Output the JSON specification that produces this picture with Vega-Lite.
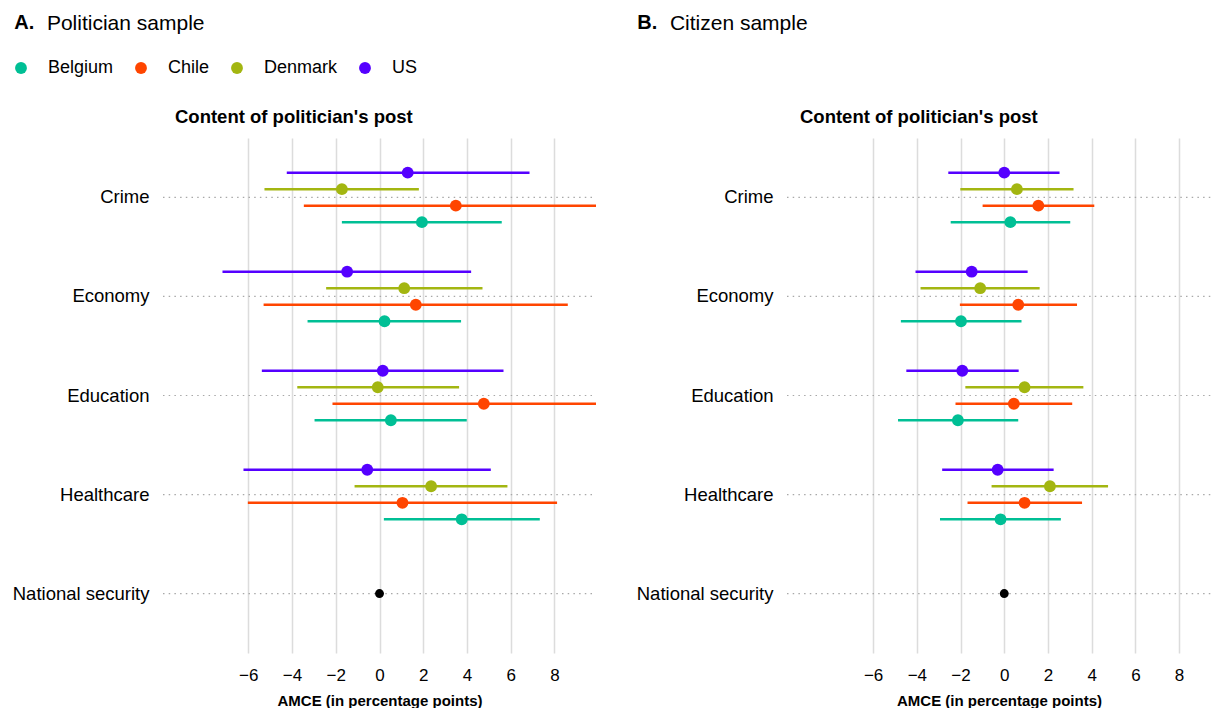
{
  "$schema": "https://vega.github.io/schema/vega-lite/v6.json",
  "autosize": {"type": "pad"},
  "padding": {"left": 12, "top": 12, "right": 0, "bottom": 0},
  "background": "white",
  "datasets": {
    "pol": [
      {"topic": "Crime", "country": "US", "est": 1.29, "lo": -4.24, "hi": 6.86},
      {"topic": "Crime", "country": "Denmark", "est": -1.72, "lo": -5.26, "hi": 1.80},
      {"topic": "Crime", "country": "Chile", "est": 3.49, "lo": -3.46, "hi": 10.4},
      {"topic": "Crime", "country": "Belgium", "est": 1.94, "lo": -1.72, "hi": 5.59},
      {"topic": "Economy", "country": "US", "est": -1.48, "lo": -7.18, "hi": 4.19},
      {"topic": "Economy", "country": "Denmark", "est": 1.13, "lo": -2.44, "hi": 4.71},
      {"topic": "Economy", "country": "Chile", "est": 1.66, "lo": -5.30, "hi": 8.61},
      {"topic": "Economy", "country": "Belgium", "est": 0.23, "lo": -3.29, "hi": 3.73},
      {"topic": "Education", "country": "US", "est": 0.15, "lo": -5.38, "hi": 5.67},
      {"topic": "Education", "country": "Denmark", "est": -0.08, "lo": -3.76, "hi": 3.64},
      {"topic": "Education", "country": "Chile", "est": 4.77, "lo": -2.15, "hi": 11.7},
      {"topic": "Education", "country": "Belgium", "est": 0.52, "lo": -2.97, "hi": 3.99},
      {"topic": "Healthcare", "country": "US", "est": -0.56, "lo": -6.22, "hi": 5.09},
      {"topic": "Healthcare", "country": "Denmark", "est": 2.36, "lo": -1.14, "hi": 5.85},
      {"topic": "Healthcare", "country": "Chile", "est": 1.05, "lo": -6.02, "hi": 8.12},
      {"topic": "Healthcare", "country": "Belgium", "est": 3.76, "lo": 0.20, "hi": 7.33}
    ],
    "cit": [
      {"topic": "Crime", "country": "US", "est": 0.0, "lo": -2.56, "hi": 2.53},
      {"topic": "Crime", "country": "Denmark", "est": 0.58, "lo": -2.01, "hi": 3.17},
      {"topic": "Crime", "country": "Chile", "est": 1.56, "lo": -0.99, "hi": 4.12},
      {"topic": "Crime", "country": "Belgium", "est": 0.28, "lo": -2.45, "hi": 3.02},
      {"topic": "Economy", "country": "US", "est": -1.49, "lo": -4.06, "hi": 1.07},
      {"topic": "Economy", "country": "Denmark", "est": -1.10, "lo": -3.83, "hi": 1.62},
      {"topic": "Economy", "country": "Chile", "est": 0.64, "lo": -2.03, "hi": 3.33},
      {"topic": "Economy", "country": "Belgium", "est": -1.98, "lo": -4.73, "hi": 0.79},
      {"topic": "Education", "country": "US", "est": -1.92, "lo": -4.48, "hi": 0.66},
      {"topic": "Education", "country": "Denmark", "est": 0.93, "lo": -1.78, "hi": 3.62},
      {"topic": "Education", "country": "Chile", "est": 0.44, "lo": -2.23, "hi": 3.11},
      {"topic": "Education", "country": "Belgium", "est": -2.12, "lo": -4.86, "hi": 0.64},
      {"topic": "Healthcare", "country": "US", "est": -0.30, "lo": -2.84, "hi": 2.26},
      {"topic": "Healthcare", "country": "Denmark", "est": 2.09, "lo": -0.58, "hi": 4.75},
      {"topic": "Healthcare", "country": "Chile", "est": 0.93, "lo": -1.68, "hi": 3.56},
      {"topic": "Healthcare", "country": "Belgium", "est": -0.17, "lo": -2.94, "hi": 2.59}
    ],
    "topics": [
      {"topic": "Crime"}, {"topic": "Economy"}, {"topic": "Education"}, {"topic": "Healthcare"}, {"topic": "National security"}
    ],
    "ref": [
      {"topic": "National security", "est": 0}
    ]
  },
  "spacing": 39,
  "hconcat": [
    {
      "title": {"text": "A.", "subtitle": "\u200b\u2002\u2002\u00a0\u00a0Politician sample", "anchor": "start", "frame": "bounds", "dx": 2, "offset": 74, "fontSize": 20, "fontWeight": "bold", "subtitleFontSize": 21, "subtitleFontWeight": "normal", "subtitleColor": "black", "subtitlePadding": -20},
      "vconcat": [
        {
          "title": {"text": "Content of politician's post", "anchor": "start", "frame": "group", "dx": 12, "offset": 12, "fontSize": 18.5, "fontWeight": "bold"},
          "width": 433,
          "height": 515,
          "layer": [
            {
              "data": {"name": "topics"},
              "mark": {"type": "rule", "color": "#a8a8a8", "strokeWidth": 1.2, "strokeDash": [1.5, 4.2]},
              "encoding": {
                "y": {"field": "topic", "type": "nominal", "scale": {"domain": ["Crime", "Economy", "Education", "Healthcare", "National security"], "paddingInner": 0, "paddingOuter": 0.1}, "axis": {"title": null}},
                "x": {"datum": -9.9, "type": "quantitative", "scale": {"domain": [-9.9, 9.9], "nice": false, "zero": false}, "axis": {"title": "AMCE (in percentage points)", "values": [-6, -4, -2, 0, 2, 4, 6, 8]}},
                "x2": {"datum": 9.9}
              }
            },
            {
              "mark": {"type": "rule", "color": "#808080", "strokeWidth": 2},
              "encoding": {"x": {"datum": 0}}
            },
            {
              "data": {"name": "pol"},
              "mark": {"type": "rule", "strokeWidth": 2.5, "clip": true},
              "encoding": {
                "y": {"field": "topic", "type": "nominal"},
                "yOffset": {"field": "country", "type": "nominal", "scale": {"domain": ["US", "Denmark", "Chile", "Belgium"], "paddingInner": 0, "paddingOuter": 1.96}},
                "x": {"field": "lo", "type": "quantitative", "title": "AMCE (in percentage points)"},
                "x2": {"field": "hi"},
                "color": {"field": "country", "type": "nominal", "scale": {"domain": ["Belgium", "Chile", "Denmark", "US"], "range": ["#00BF95", "#FF4500", "#A3B611", "#5500FF"]},
                  "legend": {"orient": "none", "legendX": -151, "legendY": -79, "direction": "horizontal", "columns": 4, "title": null, "symbolType": "circle", "symbolSize": 140, "symbolStrokeWidth": 0, "symbolOpacity": 1, "labelFontSize": 18, "labelColor": "black", "labelOffset": 18, "columnPadding": 18}}
              }
            },
            {
              "data": {"name": "pol"},
              "mark": {"type": "point", "filled": true, "opacity": 1, "size": 140},
              "encoding": {
                "y": {"field": "topic", "type": "nominal"},
                "yOffset": {"field": "country", "type": "nominal"},
                "x": {"field": "est", "type": "quantitative", "title": "AMCE (in percentage points)"},
                "color": {"field": "country", "type": "nominal"}
              }
            },
            {
              "data": {"name": "ref"},
              "mark": {"type": "point", "filled": true, "opacity": 1, "size": 80, "color": "black"},
              "encoding": {
                "y": {"field": "topic", "type": "nominal"},
                "x": {"field": "est", "type": "quantitative", "title": "AMCE (in percentage points)"}
              }
            }
          ]
        }
      ]
    },
    {
      "title": {"text": "B.", "subtitle": "\u200b\u2002\u2002\u00a0\u00a0Citizen sample", "anchor": "start", "frame": "bounds", "dx": 1, "offset": 74, "fontSize": 20, "fontWeight": "bold", "subtitleFontSize": 21, "subtitleFontWeight": "normal", "subtitleColor": "black", "subtitlePadding": -20},
      "vconcat": [
        {
          "title": {"text": "Content of politician's post", "anchor": "start", "frame": "group", "dx": 13, "offset": 12, "fontSize": 18.5, "fontWeight": "bold"},
          "width": 424,
          "height": 515,
          "layer": [
            {
              "data": {"name": "topics"},
              "mark": {"type": "rule", "color": "#a8a8a8", "strokeWidth": 1.2, "strokeDash": [1.5, 4.2]},
              "encoding": {
                "y": {"field": "topic", "type": "nominal", "scale": {"domain": ["Crime", "Economy", "Education", "Healthcare", "National security"], "paddingInner": 0, "paddingOuter": 0.1}, "axis": {"title": null}},
                "x": {"datum": -9.94, "type": "quantitative", "scale": {"domain": [-9.94, 9.46], "nice": false, "zero": false}, "axis": {"title": "AMCE (in percentage points)", "values": [-6, -4, -2, 0, 2, 4, 6, 8]}},
                "x2": {"datum": 9.46}
              }
            },
            {
              "mark": {"type": "rule", "color": "#808080", "strokeWidth": 2},
              "encoding": {"x": {"datum": 0}}
            },
            {
              "data": {"name": "cit"},
              "mark": {"type": "rule", "strokeWidth": 2.5, "clip": true},
              "encoding": {
                "y": {"field": "topic", "type": "nominal"},
                "yOffset": {"field": "country", "type": "nominal", "scale": {"domain": ["US", "Denmark", "Chile", "Belgium"], "paddingInner": 0, "paddingOuter": 1.96}},
                "x": {"field": "lo", "type": "quantitative", "title": "AMCE (in percentage points)"},
                "x2": {"field": "hi"},
                "color": {"field": "country", "type": "nominal"}
              }
            },
            {
              "data": {"name": "cit"},
              "mark": {"type": "point", "filled": true, "opacity": 1, "size": 140},
              "encoding": {
                "y": {"field": "topic", "type": "nominal"},
                "yOffset": {"field": "country", "type": "nominal"},
                "x": {"field": "est", "type": "quantitative", "title": "AMCE (in percentage points)"},
                "color": {"field": "country", "type": "nominal"}
              }
            },
            {
              "data": {"name": "ref"},
              "mark": {"type": "point", "filled": true, "opacity": 1, "size": 80, "color": "black"},
              "encoding": {
                "y": {"field": "topic", "type": "nominal"},
                "x": {"field": "est", "type": "quantitative", "title": "AMCE (in percentage points)"}
              }
            }
          ]
        }
      ]
    }
  ],
  "config": {
    "font": "Liberation Sans",
    "view": {"stroke": null},
    "title": {"color": "black", "font": "Liberation Sans", "subtitleFont": "Liberation Sans"},
    "axis": {"domain": false, "ticks": false, "labelColor": "black", "titleColor": "black"},
    "axisX": {"grid": true, "gridColor": "#dcdcdc", "gridWidth": 1.5, "labelFontSize": 17, "labelPadding": 14, "titleFontSize": 15, "titleFontWeight": "bold", "titlePadding": 10},
    "axisY": {"grid": false, "labelFontSize": 18.5, "labelPadding": 14}
  }
}
